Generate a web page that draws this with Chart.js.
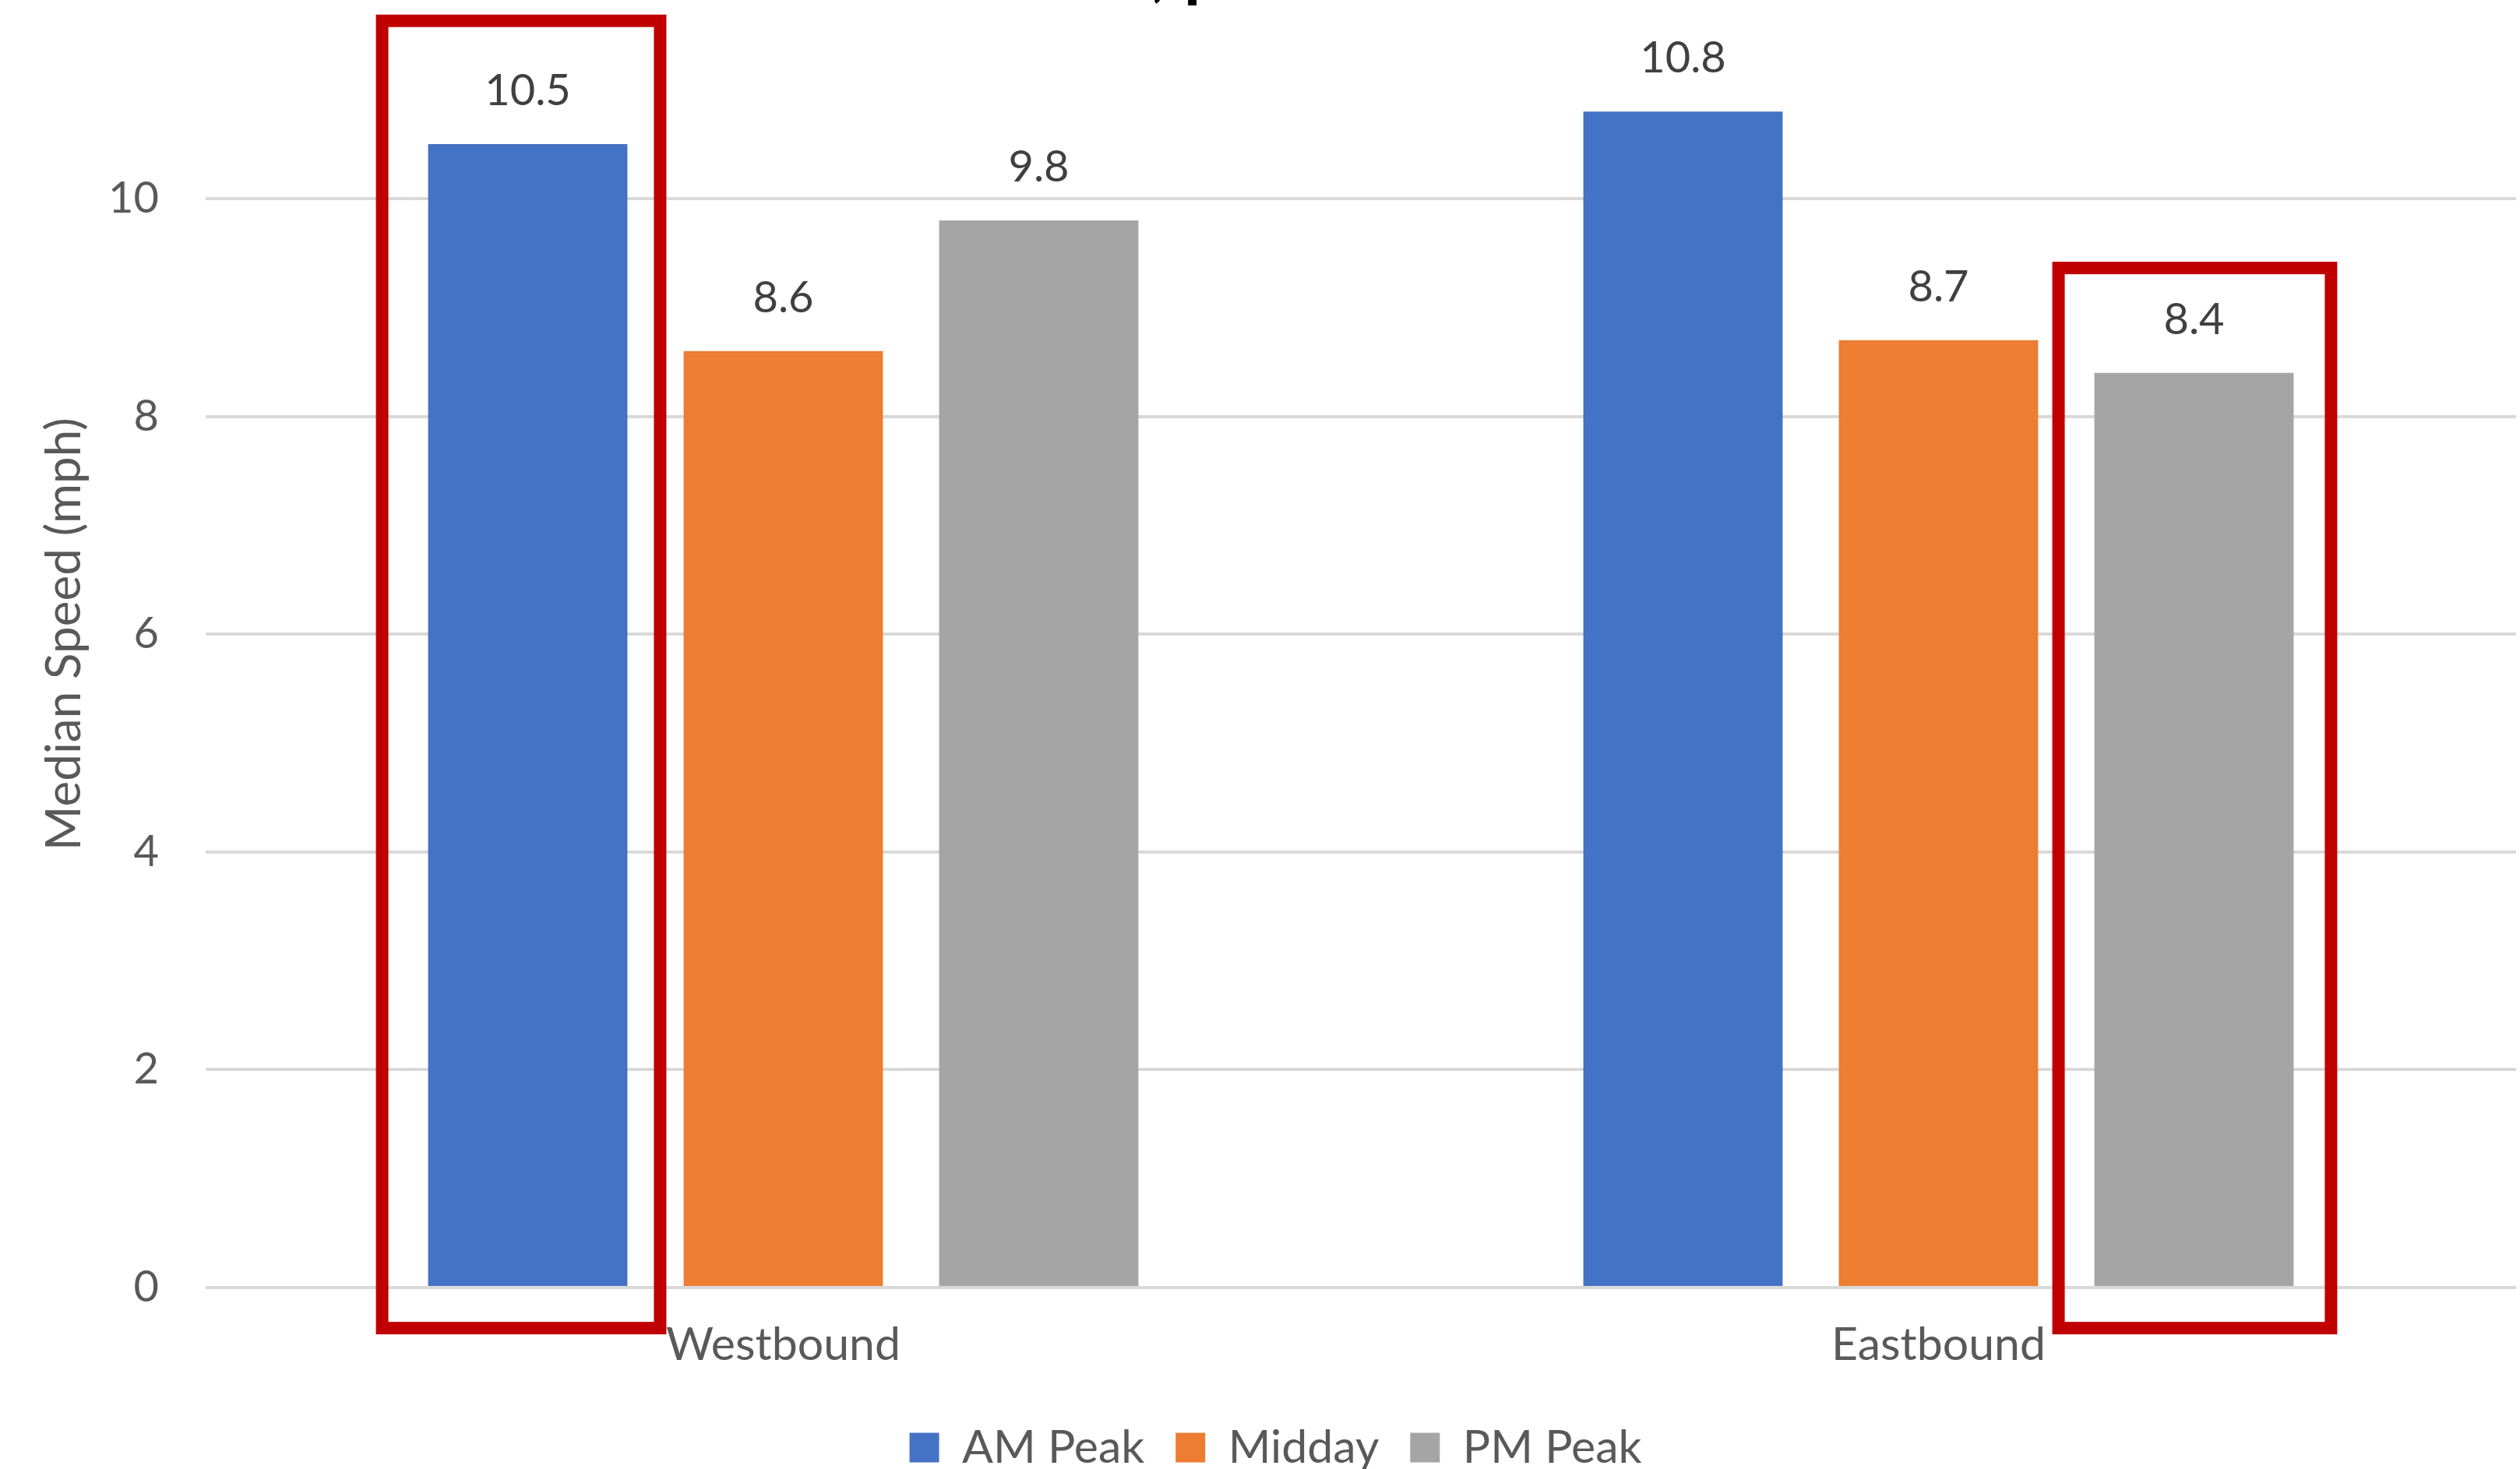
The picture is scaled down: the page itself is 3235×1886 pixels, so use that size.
<!DOCTYPE html>
<html>
<head>
<meta charset="utf-8">
<script src="https://cdn.jsdelivr.net/npm/chart.js@4.4.0/dist/chart.umd.min.js"></script>
<style>
  html, body { margin: 0; padding: 0; background: #fff; overflow: hidden; }
  #wrap { position: absolute; left: 0; top: -100px; width: 3275px; height: 1998px; }
</style>
</head>
<body>
<div id="wrap"><canvas id="chart" width="3275" height="1998"></canvas></div>
<script>
const directions = ["Westbound", "Eastbound"];
const amPeak = [10.5, 10.8];
const midday = [8.6, 8.7];
const pmPeak = [9.8, 8.4];
const yTicks = [0, 2, 4, 6, 8, 10];
const yMax = 12;

// bars outlined in red: [dataset, category], and how high each box reaches (mph)
const highlights = [[0, 0], [2, 1]];
const highlightTops = [11.69, 9.42];
const highlightBottom = -0.43;

// box padding around the bar, px (left, right)
const boxPad = [[67, 50], [54, 56]];

Chart.defaults.font.family = "Lato, 'Open Sans', sans-serif";

const barLabels = {
  id: "barLabels",
  afterDatasetsDraw(chart) {
    const ctx = chart.ctx;
    ctx.save();
    ctx.font = "56px Lato";
    ctx.fillStyle = "#404040";
    ctx.textAlign = "center";
    ctx.textBaseline = "middle";
    chart.data.datasets.forEach((ds, i) => {
      chart.getDatasetMeta(i).data.forEach((bar, j) => {
        ctx.fillText(ds.data[j].toFixed(1), bar.x, bar.y - 68);
      });
    });
    ctx.restore();
  }
};

const redBoxes = {
  id: "redBoxes",
  afterDatasetsDraw(chart) {
    const ctx = chart.ctx;
    const y = chart.scales.y;
    ctx.save();
    ctx.strokeStyle = "#C00000";
    ctx.lineWidth = 16;
    highlights.forEach(([ds, cat], k) => {
      const bar = chart.getDatasetMeta(ds).data[cat];
      const left = bar.x - bar.width / 2 - boxPad[k][0] + 8;
      const right = bar.x + bar.width / 2 + boxPad[k][1] - 8;
      const top = y.getPixelForValue(highlightTops[k]) + 8;
      const bottom = y.getPixelForValue(highlightBottom) - 8;
      ctx.strokeRect(left, top, right - left, bottom - top);
    });
    ctx.restore();
  }
};

new Chart(document.getElementById("chart"), {
  type: "bar",
  data: {
    labels: directions,
    datasets: [
      { label: "AM Peak", data: amPeak, backgroundColor: "#4472C4" },
      { label: "Midday", data: midday, backgroundColor: "#ED7D31" },
      { label: "PM Peak", data: pmPeak, backgroundColor: "#A5A5A5" },
    ],
  },
  options: {
    responsive: false,
    animation: false,
    categoryPercentage: 0.6635,
    barPercentage: 0.78,
    layout: { padding: { left: 45, right: 45, top: 0, bottom: 0 } },
    scales: {
      x: {
        grid: { display: false },
        border: { display: false },
        ticks: { color: "#595959", font: { size: 59 }, padding: 31 },
        afterFit: (s) => { s.height = 136; },
      },
      y: {
        min: 0,
        max: yMax,
        grid: { color: "#d9d9d9", lineWidth: 4, drawTicks: false },
        border: { display: false },
        ticks: { color: "#595959", font: { size: 56 }, padding: 60 },
        afterBuildTicks: (s) => { s.ticks = yTicks.map((v) => ({ value: v })); },
        afterFit: (s) => {
          s.width = 219;
          s.paddingTop = 0;
          s.paddingBottom = 0;
        },
        title: {
          display: true,
          text: "Median Speed (mph)",
          color: "#595959",
          font: { size: 62 },
          padding: { top: 1, bottom: 0 },
        },
      },
    },
    plugins: {
      title: {
        display: true,
        text: "Median Travel Rates, peak hours and other times",
        color: "#000",
        font: { size: 88, weight: "bold" },
        padding: { top: 11, bottom: -41.2 },
      },
      legend: {
        position: "bottom",
        labels: { boxWidth: 38, boxHeight: 38, padding: 40, color: "#595959", font: { size: 59 } },
      },
      tooltip: { enabled: false },
    },
  },
  plugins: [barLabels, redBoxes],
});
</script>
</body>
</html>
